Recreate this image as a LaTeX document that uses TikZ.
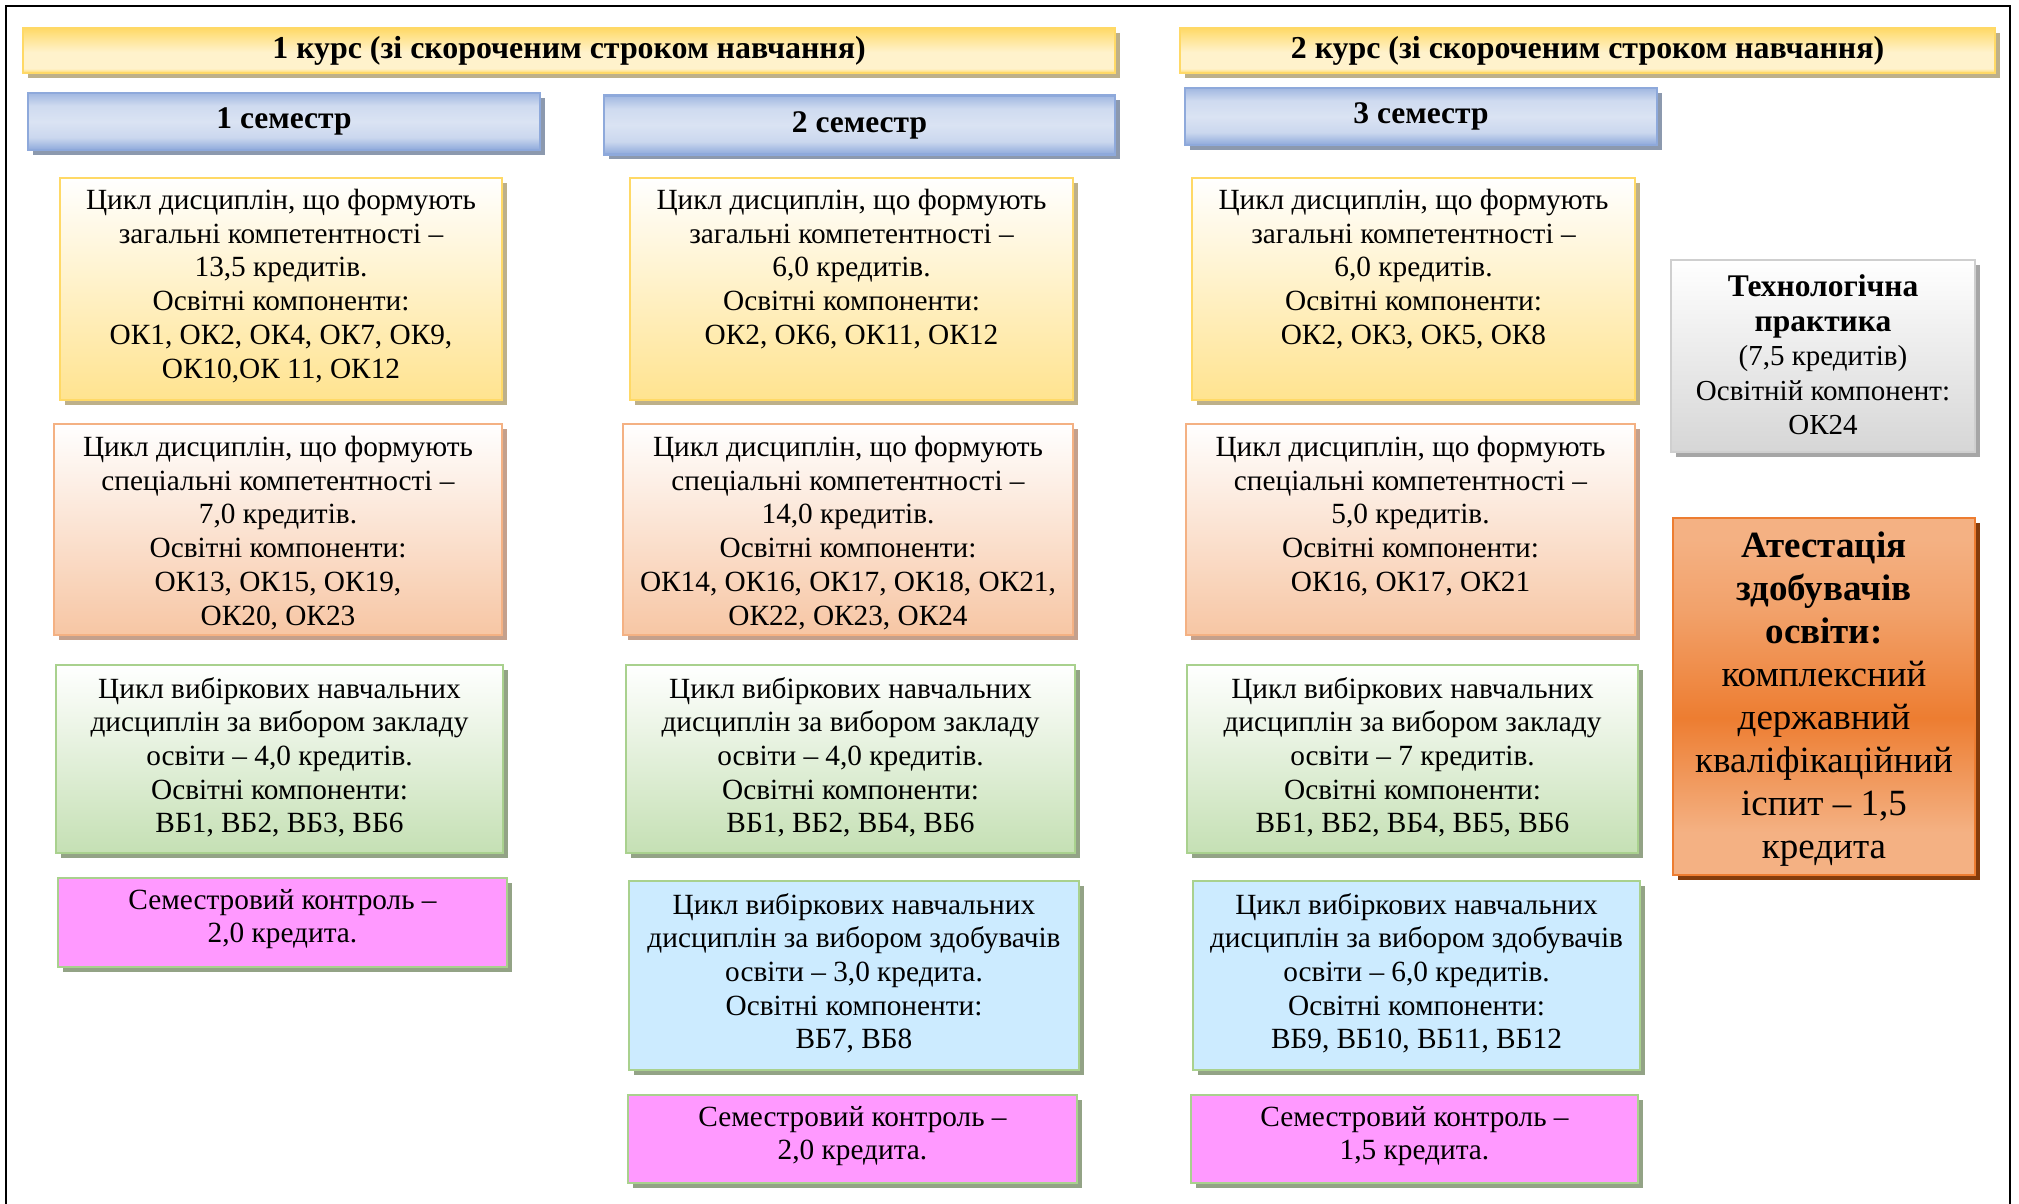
\documentclass[tikz,border=0pt]{standalone}
\usepackage{fontspec}
\setmainfont{Liberation Serif}
\usetikzlibrary{shadows}
\definecolor{ybord}{HTML}{FFD966}
\definecolor{ycream}{HTML}{FFF2CC}
\definecolor{ymid}{HTML}{FFE699}
\definecolor{yfill}{HTML}{FFE38F}
\definecolor{yshad}{HTML}{BDB08A}
\definecolor{obord}{HTML}{F4B183}
\definecolor{ofill}{HTML}{F7C6A4}
\definecolor{oshad}{HTML}{C4A08C}
\definecolor{gbord}{HTML}{A9D18E}
\definecolor{gfill}{HTML}{C5E0B4}
\definecolor{gshad}{HTML}{93A386}
\definecolor{bfill}{HTML}{CCEBFF}
\definecolor{pfill}{HTML}{FF99FF}
\definecolor{grbord}{HTML}{CFCFCF}
\definecolor{grfill}{HTML}{D6D6D6}
\definecolor{grshad}{HTML}{A6A6A6}
\definecolor{abord}{HTML}{ED7D31}
\definecolor{alight}{HTML}{F4B183}
\definecolor{ashad}{HTML}{843C0C}
\definecolor{sbord}{HTML}{8EA9DB}
\definecolor{slight}{HTML}{DAE3F3}
\definecolor{sshad}{HTML}{8C99AE}
\pgfdeclareverticalshading{bannershade}{100bp}{color(0bp)=(ybord); color(25bp)=(ybord); color(30bp)=(ycream); color(48bp)=(ycream); color(62bp)=(ymid); color(75bp)=(ybord); color(100bp)=(ybord)}
\pgfdeclareverticalshading{semshade}{100bp}{color(0bp)=(sbord); color(25bp)=(sbord); color(36bp)=(slight!80!sbord); color(50bp)=(slight); color(64bp)=(slight!85!sbord); color(75bp)=(sbord!75!slight); color(100bp)=(sbord!75!slight)}
\pgfdeclareverticalshading{attshade}{100bp}{color(0bp)=(alight); color(25bp)=(alight); color(31bp)=(alight); color(47bp)=(abord); color(62bp)=(alight!70!abord); color(72bp)=(alight); color(100bp)=(alight)}
\tikzset{
  basebox/.style={rectangle, inner sep=0pt, outer sep=0pt, line width=2.5pt},
  banner/.style={basebox, draw=ybord, shading=bannershade,
    drop shadow={shadow xshift=5pt, shadow yshift=-5pt, fill=yshad, opacity=1},
    font=\fontsize{31.9}{36}\selectfont\bfseries},
  semhead/.style={basebox, draw=sbord, shading=semshade,
    drop shadow={shadow xshift=5pt, shadow yshift=-5pt, fill=sshad, opacity=1},
    font=\fontsize{31.5}{36}\selectfont\bfseries},
  ybox/.style={basebox, draw=ybord, top color=white, bottom color=yfill,
    drop shadow={shadow xshift=5pt, shadow yshift=-5pt, fill=yshad, opacity=1}},
  obox/.style={basebox, draw=obord, top color=white, bottom color=ofill,
    drop shadow={shadow xshift=5pt, shadow yshift=-5pt, fill=oshad, opacity=1}},
  gbox/.style={basebox, draw=gbord, top color=white, bottom color=gfill,
    drop shadow={shadow xshift=5pt, shadow yshift=-5pt, fill=gshad, opacity=1}},
  bbox/.style={basebox, draw=gbord, fill=bfill,
    drop shadow={shadow xshift=5pt, shadow yshift=-5pt, fill=gshad, opacity=1}},
  pbox/.style={basebox, draw=gbord, fill=pfill,
    drop shadow={shadow xshift=5pt, shadow yshift=-5pt, fill=gshad, opacity=1}},
  grbox/.style={basebox, draw=grbord, top color=white, bottom color=grfill,
    drop shadow={shadow xshift=5pt, shadow yshift=-5pt, fill=grshad, opacity=1}},
  abox/.style={basebox, draw=abord, shading=attshade,
    drop shadow={shadow xshift=5pt, shadow yshift=-5pt, fill=ashad, opacity=1}},
  txt/.style={inner sep=0pt, align=center, anchor=north, font=\fontsize{29.3}{33.7}\selectfont},
  gtxt/.style={inner sep=0pt, align=center, font=\fontsize{29}{34.5}\selectfont},
  atxt/.style={inner sep=0pt, align=center, font=\fontsize{37}{43}\selectfont},
}
\newcommand{\bigbf}[1]{{\fontsize{31.5}{36}\selectfont\bfseries #1}}
\begin{document}
\begin{tikzpicture}[x=1pt, y=-1pt]
\useasboundingbox (0,0) rectangle (2019,1204);
\fill[white] (0,0) rectangle (2019,1204);
\draw[line width=2.5pt, black] (6,1210) -- (6,6) -- (2010,6) -- (2010,1210);

% banners
\node[banner, minimum width=1092pt, minimum height=45pt] (k1) at (569,50.5) {1 курс (зі скороченим строком навчання)};
\node[banner, minimum width=815pt, minimum height=45pt] (k2) at (1587.5,50.5) {2 курс (зі скороченим строком навчання)};

% semesters
\node[semhead, minimum width=512pt, minimum height=57pt] (s1) at (284,121.5) {1 семестр};
\node[semhead, minimum width=511pt, minimum height=59pt] (s2) at (859.5,125) {2 семестр};
\node[semhead, minimum width=472pt, minimum height=57pt] (s3) at (1421,116.5) {3 семестр};

% column 1
\node[ybox, minimum width=442pt, minimum height=222pt] (c1y) at (281,289) {};
\node[txt] (c1yt) at ([yshift=-11pt]c1y.north) {Цикл дисциплін, що формують\\загальні компетентності –\\13,5 кредитів.\\Освітні компоненти:\\ОК1, ОК2, ОК4, ОК7, ОК9,\\ОК10,ОК 11, ОК12};
\node[obox, minimum width=448pt, minimum height=211pt] (c1o) at (278,529.5) {};
\node[txt] (c1ot) at ([yshift=-12pt]c1o.north) {Цикл дисциплін, що формують\\спеціальні компетентності –\\7,0 кредитів.\\Освітні компоненти:\\ОК13, ОК15, ОК19,\\ОК20, ОК23};
\node[gbox, minimum width=447pt, minimum height=188pt] (c1g) at (279.5,759) {};
\node[txt] (c1gt) at ([yshift=-12pt]c1g.north) {Цикл вибіркових навчальних\\дисциплін за вибором закладу\\освіти – 4,0 кредитів.\\Освітні компоненти:\\ВБ1, ВБ2, ВБ3, ВБ6};
\node[pbox, minimum width=449pt, minimum height=89pt] (c1p) at (282.5,922.5) {};
\node[txt] (c1pt) at ([yshift=-11pt]c1p.north) {Семестровий контроль –\\2,0 кредита.};

% column 2
\node[ybox, minimum width=443pt, minimum height=222pt] (c2y) at (851.5,289) {};
\node[txt] (c2yt) at ([yshift=-11pt]c2y.north) {Цикл дисциплін, що формують\\загальні компетентності –\\6,0 кредитів.\\Освітні компоненти:\\ОК2, ОК6, ОК11, ОК12};
\node[obox, minimum width=450pt, minimum height=211pt] (c2o) at (848,529.5) {};
\node[txt] (c2ot) at ([yshift=-12pt]c2o.north) {Цикл дисциплін, що формують\\спеціальні компетентності –\\14,0 кредитів.\\Освітні компоненти:\\ОК14, ОК16, ОК17, ОК18, ОК21,\\ОК22, ОК23, ОК24};
\node[gbox, minimum width=449pt, minimum height=188pt] (c2g) at (850.5,759) {};
\node[txt] (c2gt) at ([yshift=-12pt]c2g.north) {Цикл вибіркових навчальних\\дисциплін за вибором закладу\\освіти – 4,0 кредитів.\\Освітні компоненти:\\ВБ1, ВБ2, ВБ4, ВБ6};
\node[bbox, minimum width=450pt, minimum height=189pt] (c2b) at (854,975.5) {};
\node[txt] (c2bt) at ([yshift=-12pt]c2b.north) {Цикл вибіркових навчальних\\дисциплін за вибором здобувачів\\освіти – 3,0 кредита.\\Освітні компоненти:\\ВБ7, ВБ8};
\node[pbox, minimum width=449pt, minimum height=88pt] (c2p) at (852.5,1139) {};
\node[txt] (c2pt) at ([yshift=-11pt]c2p.north) {Семестровий контроль –\\2,0 кредита.};

% column 3
\node[ybox, minimum width=443pt, minimum height=222pt] (c3y) at (1413.5,289) {};
\node[txt] (c3yt) at ([yshift=-11pt]c3y.north) {Цикл дисциплін, що формують\\загальні компетентності –\\6,0 кредитів.\\Освітні компоненти:\\ОК2, ОК3, ОК5, ОК8};
\node[obox, minimum width=449pt, minimum height=211pt] (c3o) at (1410.5,529.5) {};
\node[txt] (c3ot) at ([yshift=-12pt]c3o.north) {Цикл дисциплін, що формують\\спеціальні компетентності –\\5,0 кредитів.\\Освітні компоненти:\\ОК16, ОК17, ОК21};
\node[gbox, minimum width=451pt, minimum height=188pt] (c3g) at (1412.5,759) {};
\node[txt] (c3gt) at ([yshift=-12pt]c3g.north) {Цикл вибіркових навчальних\\дисциплін за вибором закладу\\освіти – 7 кредитів.\\Освітні компоненти:\\ВБ1, ВБ2, ВБ4, ВБ5, ВБ6};
\node[bbox, minimum width=447pt, minimum height=189pt] (c3b) at (1416.5,975.5) {};
\node[txt] (c3bt) at ([yshift=-12pt]c3b.north) {Цикл вибіркових навчальних\\дисциплін за вибором здобувачів\\освіти – 6,0 кредитів.\\Освітні компоненти:\\ВБ9, ВБ10, ВБ11, ВБ12};
\node[pbox, minimum width=447pt, minimum height=88pt] (c3p) at (1414.5,1139) {};
\node[txt] (c3pt) at ([yshift=-11pt]c3p.north) {Семестровий контроль –\\1,5 кредита.};

% column 4
\node[grbox, minimum width=304pt, minimum height=192pt] (prak) at (1823,356) {};
\node[gtxt] (prakt) at ([yshift=1pt]prak.center) {\bigbf{Технологічна}\\\bigbf{практика}\\(7,5 кредитів)\\Освітній компонент:\\ОК24};
\node[abox, minimum width=302pt, minimum height=357pt] (att) at (1824,696.5) {};
\node[atxt] (attt) at ([yshift=-3pt]att.center) {\textbf{Атестація}\\\textbf{здобувачів}\\\textbf{освіти:}\\комплексний\\державний\\кваліфікаційний\\іспит – 1,5\\кредита};
\end{tikzpicture}
\end{document}
